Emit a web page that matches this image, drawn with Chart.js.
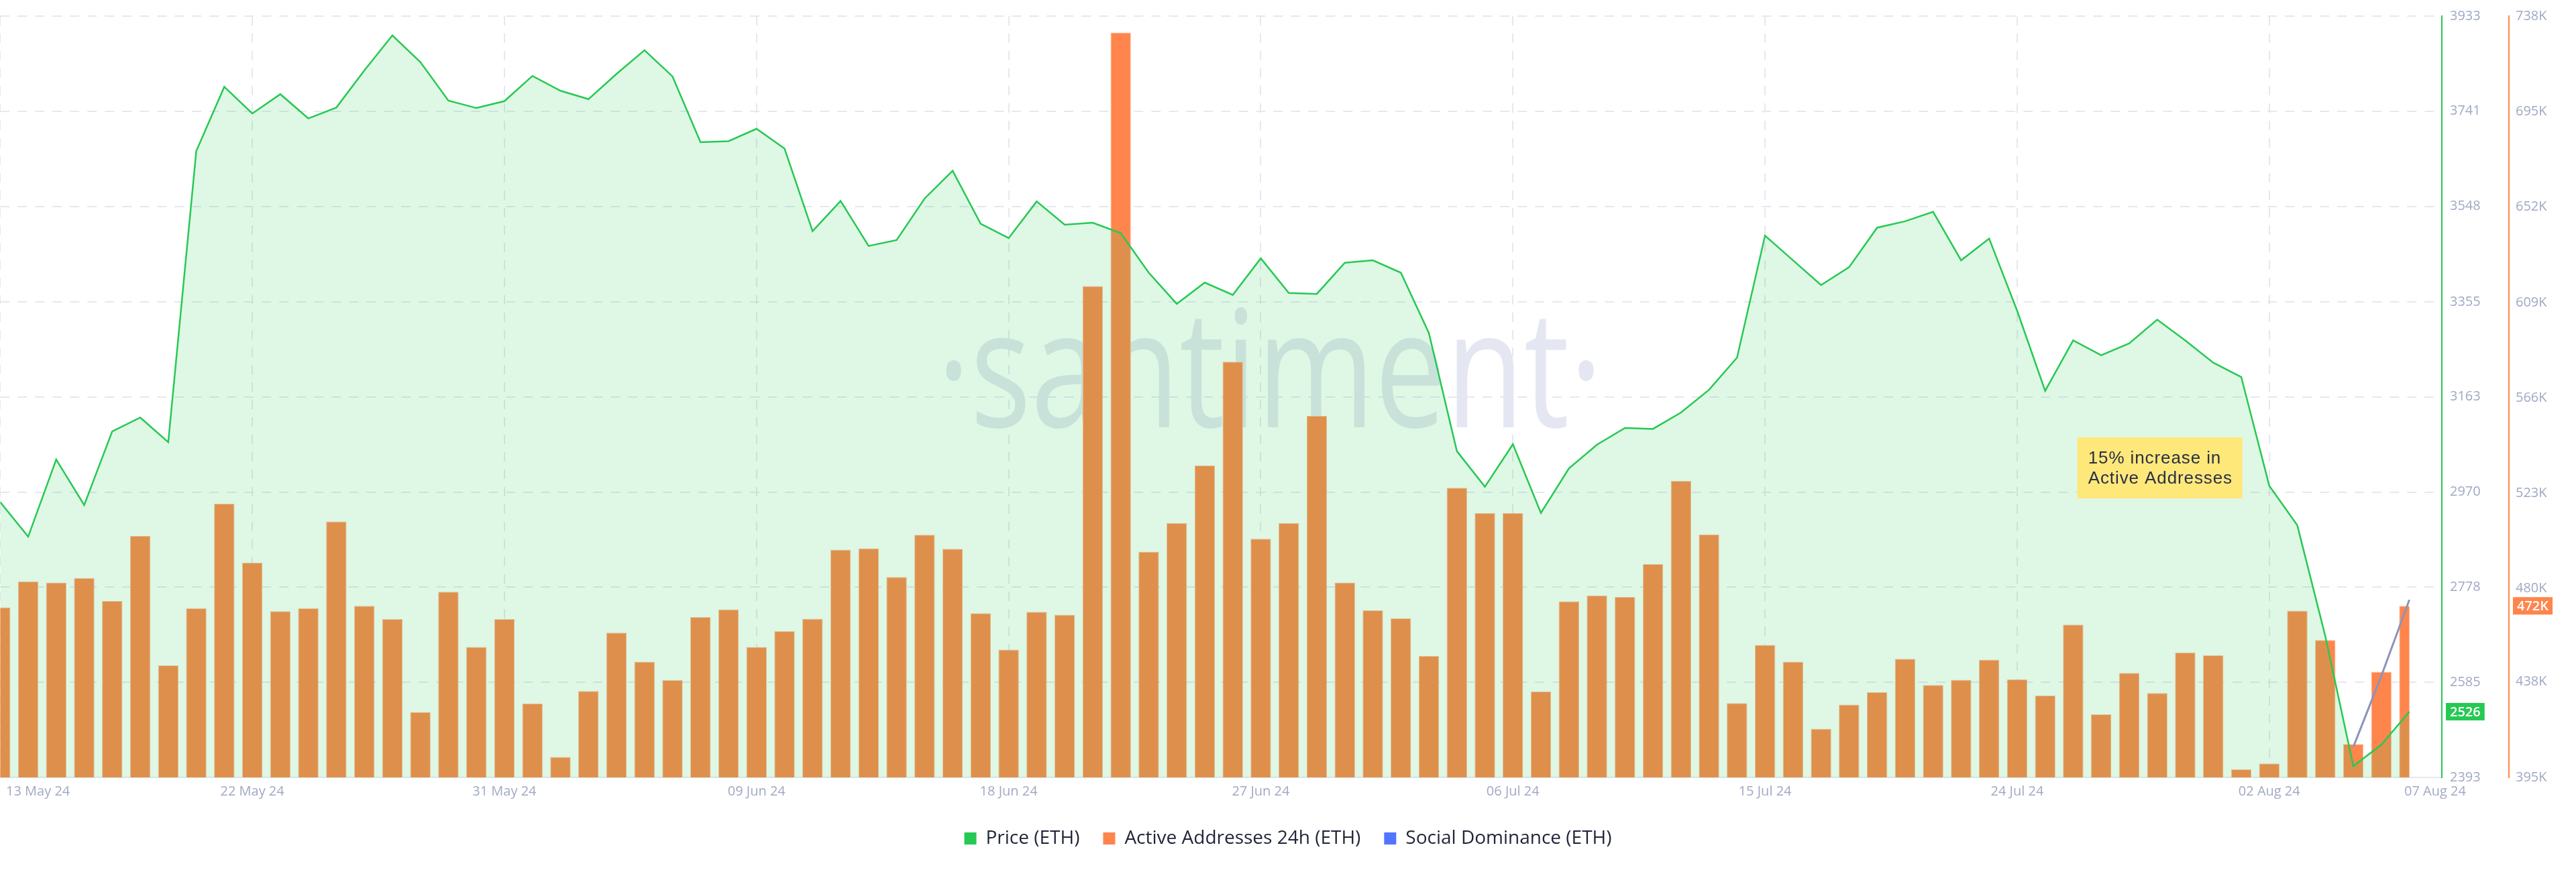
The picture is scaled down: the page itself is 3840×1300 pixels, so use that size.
<!DOCTYPE html>
<html>
<head>
<meta charset="utf-8">
<title>ETH — Price vs Active Addresses</title>
<script src="https://cdn.jsdelivr.net/npm/chart.js@4.4.1/dist/chart.umd.min.js"></script>
<style>
  html, body { margin: 0; padding: 0; background: #ffffff; }
  #wrap { width: 3840px; height: 1300px; }
</style>
</head>
<body>
<div id="wrap"><canvas id="chart" width="3840" height="1300"></canvas></div>
<script>
/* ETH daily: price, active addresses (24h) and social dominance,
   13 May 24 .. 07 Aug 24 (one value per day). */

// Price (ETH), USD
const priceEth = [
  2950, 2880, 3036, 2944, 3093, 3121, 3071, 3660, 3790, 3736,
  3775, 3726, 3748, 3823, 3894, 3840, 3762, 3747, 3761, 3812,
  3782, 3765, 3816, 3864, 3811, 3678, 3680, 3705, 3665, 3498,
  3559, 3468, 3480, 3564, 3620, 3513, 3484, 3558, 3511, 3515,
  3494, 3414, 3351, 3394, 3369, 3443, 3373, 3371, 3434, 3439,
  3414, 3292, 3053, 2981, 3067, 2928, 3018, 3066, 3100, 3098,
  3131, 3177, 3242, 3489, 3439, 3389, 3425, 3505, 3518, 3537,
  3439, 3483, 3337, 3175, 3277, 3247, 3271, 3319, 3277, 3232,
  3203, 2983, 2903, 2679, 2416, 2459, 2526,
];

// Active Addresses 24h (ETH), thousands
const activeAddressesK = [
  471.6, 483.3, 482.8, 484.8, 474.5, 503.8, 445.5, 471.2, 518.3, 491.8,
  469.9, 471.2, 510.3, 472.3, 466.3, 424.5, 478.6, 453.8, 466.3, 428.3,
  404.2, 433.9, 460.2, 447.1, 438.8, 467.2, 470.7, 453.8, 460.9, 466.5,
  497.6, 498.2, 485.3, 504.3, 498.0, 469.0, 452.6, 469.6, 468.3, 616.4,
  730.6, 496.7, 509.6, 535.5, 582.3, 502.5, 509.6, 557.9, 482.8, 470.3,
  466.7, 449.7, 525.5, 514.1, 514.1, 433.7, 474.3, 477.0, 476.3, 491.1,
  528.6, 504.5, 428.5, 454.7, 447.1, 416.9, 427.8, 433.4, 448.4, 436.6,
  439.0, 448.0, 439.2, 431.9, 463.8, 423.4, 442.1, 433.0, 451.3, 450.0,
  398.6, 401.3, 470.1, 456.9, 410.0, 442.6, 472.3,
];

// Social Dominance (ETH), %, only the last days are plotted
const socialDominance = [5.6, 7.0, 8.5];
const socialFromDay = 84;

// axes
const xTickLabels = ['13 May 24', '22 May 24', '31 May 24', '09 Jun 24', '18 Jun 24', '27 Jun 24',
                     '06 Jul 24', '15 Jul 24', '24 Jul 24', '02 Aug 24', '07 Aug 24'];
const xTickDays = [0, 9, 18, 27, 36, 45, 54, 63, 72, 81, 86];
const priceTicks = [2393, 2585, 2778, 2970, 3163, 3355, 3548, 3741, 3933];
const addressTicksK = [395, 438, 480, 523, 566, 609, 652, 695, 738];

const noteLines = ['15% increase in', 'Active Addresses'];

// ---------------------------------------------------------------------

const GREEN = '#26c953';
const ORANGE = '#ff854c';
const SOCIAL = '#8e93b9';
const GRID = '#e4e8f1';
const TICK = '#a0a9c3';
const LEGEND_COLORS = [GREEN, ORANGE, '#5275ff'];

Chart.defaults.font.family = '"Open Sans", "Noto Sans", sans-serif';
Chart.defaults.font.size = 20;
Chart.defaults.color = TICK;

const lastDay = priceEth.length - 1;
const X_MAX = lastDay + 1.16;          // a little room right of the last day
const FIRST_LABEL_SHIFT = 1.35;         // first date label sits inside the plot
const LAST_LABEL_SHIFT = 0.92;

const points = (arr, from = 0) => arr.map((v, i) => ({ x: from + i, y: v }));

// bars stop at the last day's centre, like the reference
const clipBarsAtLastDay = {
  id: 'clipBarsAtLastDay',
  beforeDatasetDraw(chart, args) {
    if (args.meta.type !== 'bar') return;
    const { ctx, chartArea: a } = chart;
    const xr = chart.scales.x.getPixelForValue(lastDay);
    ctx.save();
    ctx.beginPath();
    ctx.rect(a.left, a.top, xr - a.left, a.bottom - a.top);
    ctx.clip();
  },
  afterDatasetDraw(chart, args) {
    if (args.meta.type !== 'bar') return;
    chart.ctx.restore();
  },
};

const watermark = {
  id: 'watermark',
  beforeDatasetsDraw(chart) {
    const { ctx, chartArea: a } = chart;
    ctx.save();
    ctx.font = '400 243px "Open Sans"';
    ctx.fillStyle = '#e4e7f2';
    ctx.textAlign = 'center';
    ctx.textBaseline = 'alphabetic';
    ctx.translate(a.left + a.width * 0.52, a.top + a.height * 0.54);
    ctx.scale(0.78, 1);
    ctx.fillText('\u00B7santiment\u00B7', 0, 0);
    ctx.restore();
  },
};

const note = {
  id: 'note',
  afterDatasetsDraw(chart) {
    const { ctx } = chart;
    const x = chart.scales.x.getPixelForValue(74.15);
    const y = chart.scales.yPrice.getPixelForValue(3081);
    ctx.save();
    ctx.fillStyle = '#ffe87a';
    ctx.fillRect(x, y, 246, 91);
    ctx.fillStyle = '#2a2f45';
    ctx.font = '26px "Liberation Sans", Arial, sans-serif';
    ctx.letterSpacing = '0.9px';
    ctx.textBaseline = 'alphabetic';
    noteLines.forEach((t, i) => ctx.fillText(t, x + 16, y + 39 + i * 30));
    ctx.restore();
  },
};

const lastValueBadges = {
  id: 'lastValueBadges',
  afterDraw(chart) {
    const { ctx } = chart;
    const badges = [
      { scale: chart.scales.yPrice, v: priceEth[lastDay], color: GREEN, text: String(priceEth[lastDay]) },
      { scale: chart.scales.yAA, v: activeAddressesK[lastDay], color: ORANGE, text: Math.round(activeAddressesK[lastDay]) + 'K' },
    ];
    badges.forEach((b) => {
      const y = b.scale.getPixelForValue(b.v);
      ctx.save();
      ctx.font = '600 20px "Open Sans"';
      const w = ctx.measureText(b.text).width + 12;
      ctx.fillStyle = b.color;
      ctx.fillRect(b.scale.left + 6, y - 13, w, 26);
      ctx.fillStyle = '#ffffff';
      ctx.textBaseline = 'middle';
      ctx.fillText(b.text, b.scale.left + 12, y + 1);
      ctx.restore();
    });
  },
};

const rightAxis = (ticks, fmt, borderColor, weight, drawGrid) => ({
  type: 'linear',
  position: 'right',
  weight,
  min: ticks[0],
  max: ticks[ticks.length - 1],
  afterBuildTicks: (s) => { s.ticks = ticks.map((v) => ({ value: v })); },
  afterFit: (s) => { s.width = 100; },
  ticks: { padding: drawGrid ? 12 : 10, color: TICK, font: { size: 20 }, callback: fmt },
  grid: { display: drawGrid, color: GRID, lineWidth: 2, drawTicks: false },
  border: { display: true, color: borderColor, width: 2, dash: [14, 12] },
});

new Chart(document.getElementById('chart'), {
  type: 'bar',
  data: {
    datasets: [
      {
        type: 'line',
        label: 'Price (ETH)',
        data: points(priceEth),
        xAxisID: 'x',
        yAxisID: 'yPrice',
        borderColor: GREEN,
        borderWidth: 2.5,
        backgroundColor: 'rgba(38, 201, 83, 0.15)',
        fill: 'start',
        pointRadius: 0,
        tension: 0,
        order: 1,
      },
      {
        type: 'bar',
        label: 'Active Addresses 24h (ETH)',
        data: points(activeAddressesK),
        xAxisID: 'x',
        yAxisID: 'yAA',
        backgroundColor: ORANGE,
        borderColor: '#ffc2a3',
        borderWidth: { top: 1, left: 1, right: 1, bottom: 0 },
        borderSkipped: 'bottom',
        categoryPercentage: 1,
        barPercentage: 0.73,
        order: 2,
      },
      {
        type: 'line',
        label: 'Social Dominance (ETH)',
        data: points(socialDominance, socialFromDay),
        xAxisID: 'x',
        yAxisID: 'ySD',
        borderColor: SOCIAL,
        borderWidth: 3,
        pointRadius: 0,
        fill: false,
        tension: 0,
        order: 0,
      },
    ],
  },
  options: {
    responsive: false,
    devicePixelRatio: 1,
    animation: false,
    layout: { padding: { left: 0, right: 0, top: 0, bottom: 26 } },
    plugins: {
      tooltip: { enabled: false },
      legend: {
        position: 'bottom',
        labels: {
          boxWidth: 18,
          boxHeight: 18,
          padding: 35,
          color: '#1f2437',
          font: { size: 28 },
          generateLabels: (chart) => chart.data.datasets.map((ds, i) => ({
            text: ds.label,
            fillStyle: LEGEND_COLORS[i],
            strokeStyle: LEGEND_COLORS[i],
            lineWidth: 0,
            hidden: false,
            datasetIndex: i,
            fontColor: '#1f2437',
          })),
        },
      },
    },
    scales: {
      x: {
        type: 'linear',
        position: 'bottom',
        weight: 0,
        min: 0,
        max: X_MAX,
        offset: false,
        afterBuildTicks: (s) => { s.ticks = xTickDays.slice(0, -1).map((d) => ({ value: d })); },
        ticks: { display: false },
        grid: { color: GRID, lineWidth: 2, drawTicks: false, offset: false },
        border: { display: true, color: GRID, width: 2, dash: [14, 12] },
      },
      xDates: {
        type: 'linear',
        position: 'bottom',
        weight: 1,
        min: 0,
        max: X_MAX,
        offset: false,
        afterBuildTicks: (s) => {
          s.ticks = xTickDays.map((d, i) => ({
            value: d + (i === 0 ? FIRST_LABEL_SHIFT : i === xTickDays.length - 1 ? LAST_LABEL_SHIFT : 0),
          }));
        },
        ticks: {
          padding: 9,
          color: TICK,
          autoSkip: false,
          maxRotation: 0,
          font: { size: 20 },
          callback: (v, i) => xTickLabels[i],
        },
        grid: { display: false, drawTicks: false, offset: false },
        border: { display: false },
      },
      yPrice: rightAxis(priceTicks, (v) => String(v), GREEN, 1, true),
      yAA: rightAxis(addressTicksK, (v) => v + 'K', ORANGE, 2, false),
      ySD: { type: 'linear', display: false, min: 5, max: 20 },
    },
  },
  plugins: [clipBarsAtLastDay, watermark, note, lastValueBadges],
});
</script>
</body>
</html>
